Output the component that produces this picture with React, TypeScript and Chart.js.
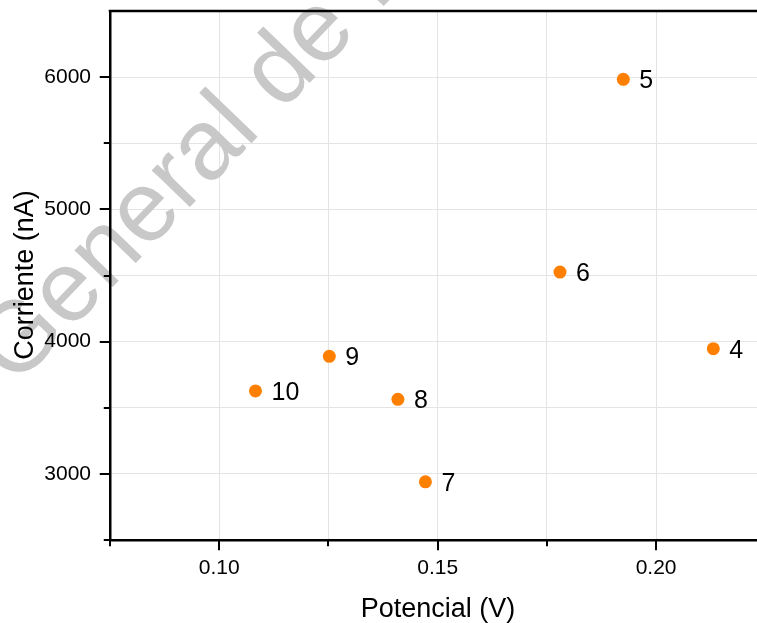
import React, { useEffect, useRef } from 'react';
import { Chart, registerables } from 'chart.js';

Chart.register(...registerables);

// ---- data ----
const pointLabels = ['4', '5', '6', '7', '8', '9', '10'];
const potencial = [0.2131, 0.1925, 0.178, 0.1472, 0.1409, 0.1252, 0.1083];
const corriente = [3947, 5983, 4526, 2940, 3564, 3889, 3627];

const xGridValues = [0.075, 0.1, 0.125, 0.15, 0.175, 0.2];
const xTickLabels = [0.1, 0.15, 0.2];
const yGridValues = [2500, 3000, 3500, 4000, 4500, 5000, 5500, 6000, 6500];
const yTickLabels = [3000, 4000, 5000, 6000];

const xMin = 0.075;
const xMax = 0.2231;
const yMin = 2500;
const yMax = 6500;

const xTitle = 'Potencial (V)';
const yTitle = 'Corriente (nA)';
const watermarkText = 'Dirección General de Bibliotecas';
const watermarkLead = 'Dirección ';

const FONT = '"Liberation Sans", Arial, Helvetica, sans-serif';
const ORANGE = '#FF8000';

export default function App() {
  const canvasRef = useRef<HTMLCanvasElement | null>(null);

  useEffect(() => {
    const canvas = canvasRef.current;
    if (!canvas) return;

    const stretchRight = {
      id: 'stretchRight',
      afterLayout(chart: any) {
        const xs = chart.scales.x;
        const W = chart.width;
        if (xs.right !== W) {
          xs.right = W;
          xs.width = W - xs.left;
          xs.configure();
          chart.chartArea.right = W;
          chart.chartArea.width = W - chart.chartArea.left;
        }
      },
    };

    const watermark = {
      id: 'watermark',
      beforeDatasetsDraw(chart: any) {
        const ctx = chart.ctx;
        ctx.save();
        ctx.font = `100px ${FONT}`;
        ctx.fillStyle = '#c8c8c8';
        ctx.textBaseline = 'alphabetic';
        ctx.textAlign = 'left';
        ctx.translate(15, 388);
        ctx.rotate((-46 * Math.PI) / 180);
        const lead = ctx.measureText(watermarkLead).width;
        ctx.fillText(watermarkText, -lead, 0);
        ctx.restore();
      },
    };

    const decorations = {
      id: 'decorations',
      afterDatasetsDraw(chart: any) {
        const ctx = chart.ctx;
        const meta = chart.getDatasetMeta(0);
        ctx.save();
        ctx.font = `25px ${FONT}`;
        ctx.fillStyle = '#000';
        ctx.textAlign = 'left';
        ctx.textBaseline = 'alphabetic';
        meta.data.forEach((pt: any, i: number) => {
          ctx.fillText(pointLabels[i], pt.x + 16, pt.y + 9);
        });
        ctx.restore();
      },
      afterDraw(chart: any) {
        const ctx = chart.ctx;
        const area = chart.chartArea;
        const xs = chart.scales.x;
        const ys = chart.scales.y;
        ctx.save();
        // top axis line
        ctx.strokeStyle = '#000';
        ctx.lineWidth = 2.5;
        ctx.beginPath();
        ctx.moveTo(area.left - 1.25, area.top);
        ctx.lineTo(chart.width, area.top);
        ctx.stroke();
        // tick marks
        ctx.lineWidth = 2;
        xGridValues.forEach((v) => {
          const px = Math.round(xs.getPixelForValue(v));
          const len = xTickLabels.includes(v) ? 9 : 5;
          ctx.beginPath();
          ctx.moveTo(px, area.bottom);
          ctx.lineTo(px, area.bottom + 1.25 + len);
          ctx.stroke();
        });
        yGridValues.forEach((v) => {
          if (v === yMax) return;
          const py = Math.round(ys.getPixelForValue(v));
          const len = yTickLabels.includes(v) ? 9 : 5;
          ctx.beginPath();
          ctx.moveTo(area.left, py);
          ctx.lineTo(area.left - 1.25 - len, py);
          ctx.stroke();
        });
        // axis titles
        ctx.fillStyle = '#000';
        ctx.font = `27px ${FONT}`;
        ctx.textAlign = 'center';
        ctx.textBaseline = 'alphabetic';
        ctx.fillText(xTitle, 438, 617);
        ctx.translate(33, 275);
        ctx.rotate(-Math.PI / 2);
        ctx.fillText(yTitle, 0, 0);
        ctx.restore();
      },
    };

    const chart = new Chart(canvas, {
      type: 'scatter',
      data: {
        datasets: [
          {
            data: potencial.map((x, i) => ({ x, y: corriente[i] })),
            backgroundColor: ORANGE,
            borderColor: ORANGE,
            borderWidth: 0,
            pointRadius: 6.5,
            pointHoverRadius: 6.5,
          },
        ],
      },
      options: {
        animation: false,
        responsive: false,
        events: [],
        layout: { padding: { top: 11, left: 0, right: 0, bottom: 0 } },
        plugins: {
          legend: { display: false },
          tooltip: { enabled: false },
        },
        scales: {
          x: {
            type: 'linear',
            min: xMin,
            max: xMax,
            afterBuildTicks: (scale: any) => {
              scale.ticks = xGridValues.map((v) => ({ value: v }));
            },
            afterFit: (scale: any) => {
              scale.height = 83;
              scale.paddingLeft = 0;
              scale.paddingRight = 0;
            },
            ticks: {
              callback: (v: any) => (xTickLabels.includes(v) ? Number(v).toFixed(2) : ''),
              font: { family: FONT, size: 21 },
              color: '#000',
              padding: 16,
              maxRotation: 0,
              autoSkip: false,
              z: 1,
            },
            grid: { color: '#e4e4e4', lineWidth: 1, drawTicks: false },
            border: { color: '#000', width: 2.5, z: 1 },
          },
          y: {
            type: 'linear',
            min: yMin,
            max: yMax,
            afterBuildTicks: (scale: any) => {
              scale.ticks = yGridValues.map((v) => ({ value: v }));
            },
            afterFit: (scale: any) => {
              scale.width = 110;
              scale.paddingTop = 0;
              scale.paddingBottom = 0;
            },
            ticks: {
              callback: (v: any) => (yTickLabels.includes(v) ? String(v) : ''),
              font: { family: FONT, size: 21 },
              color: '#000',
              padding: 19,
              autoSkip: false,
              z: 1,
            },
            grid: { color: '#e4e4e4', lineWidth: 1, drawTicks: false },
            border: { color: '#000', width: 2.5, z: 1 },
          },
        },
      },
      plugins: [stretchRight, watermark, decorations],
    } as any);

    return () => {
      chart.destroy();
    };
  }, []);

  return (
    <div style={{ position: 'absolute', left: 0, top: 0, width: 757, height: 623, background: '#fff' }}>
      <canvas ref={canvasRef} width={757} height={623} style={{ display: 'block', width: 757, height: 623 }} />
    </div>
  );
}
